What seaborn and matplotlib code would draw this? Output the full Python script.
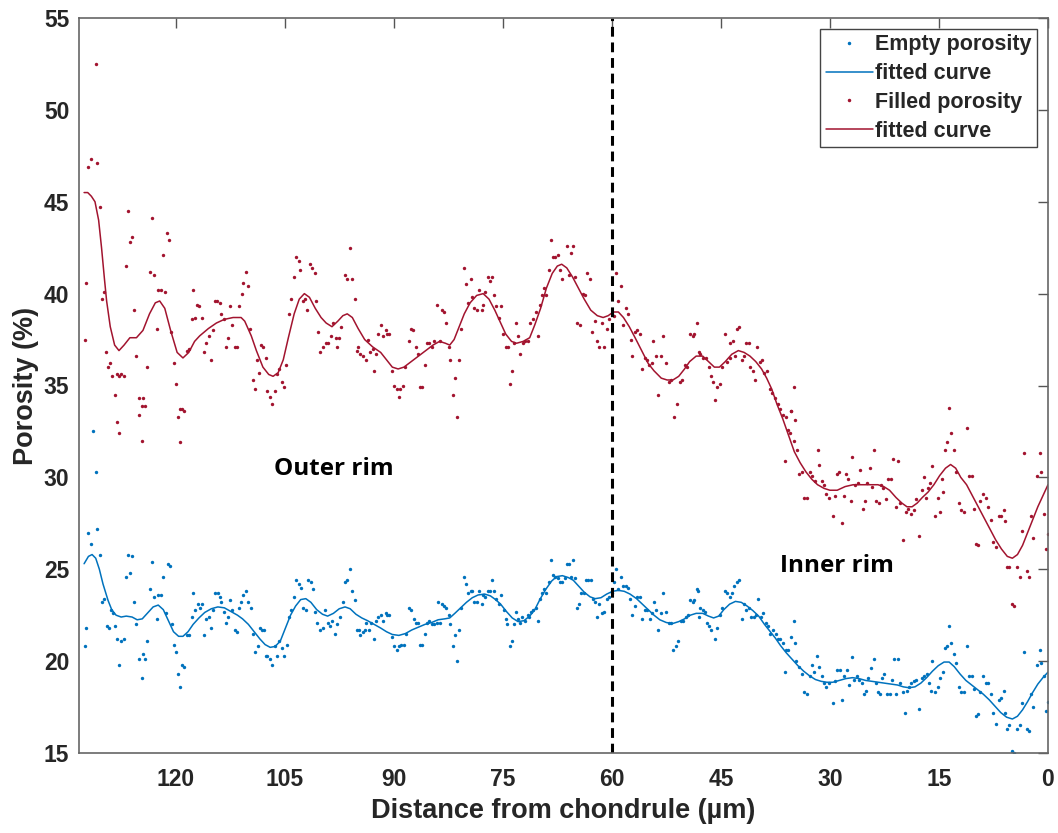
import matplotlib
matplotlib.use('Agg')
import matplotlib.pyplot as plt
from matplotlib.lines import Line2D
import pandas as pd
import seaborn as sns

# --- datos ---
# Porosidad rellena (puntos rojos)
red_x = [132.5, 132.3, 132.0, 131.7, 131.0, 130.8, 130.4, 130.2, 129.8, 129.6, 129.3, 129.1, 128.7, 128.4,
         128.1, 127.8, 127.5, 127.1, 126.9, 126.6, 126.3, 126.0, 125.7, 125.4, 125.0, 124.7, 124.5, 124.2,
         123.9, 123.6, 123.3, 123.0, 122.6, 122.4, 122.0, 121.8, 121.5, 121.2, 120.9, 120.6, 120.3, 120.0,
         119.7, 119.4, 119.1, 118.8, 118.5, 118.2, 117.8, 117.6, 117.3, 117.0, 116.8, 116.4, 116.1, 115.8,
         115.4, 115.2, 114.8, 114.6, 114.3, 113.9, 113.7, 113.4, 113.1, 112.8, 112.5, 112.2, 111.9, 111.5,
         111.3, 110.9, 110.7, 110.3, 110.0, 109.8, 109.4, 109.1, 108.8, 108.5, 108.2, 108.0, 107.6, 107.4,
         107.0, 106.8, 106.4, 106.1, 105.8, 105.4, 105.1, 104.8, 104.4, 104.1, 103.7, 103.5, 103.1, 102.9,
         102.5, 102.2, 101.9, 101.5, 101.3, 100.9, 100.7, 100.4, 100.1, 99.7, 99.3, 99.0, 98.6, 98.3, 97.9,
         97.8, 97.5, 97.2, 96.7, 96.4, 96.0, 95.7, 95.4, 95.1, 94.9,
         94.6, 94.3, 93.8, 93.5, 93.2, 92.9, 92.7, 92.4, 92.1, 91.8, 91.5, 91.1, 90.9, 90.6, 90.2, 89.9,
         89.5, 89.3, 89.1, 88.7, 88.4, 87.9, 87.6, 87.3, 87.0, 86.7, 86.4, 86.1, 85.7, 85.4, 85.1, 84.8,
         84.4, 84.0, 83.7, 83.3, 83.1, 82.8, 82.4, 82.2, 81.8, 81.6, 81.3, 81.0, 80.7, 80.4, 80.1, 79.8,
         79.4, 79.2, 78.9, 78.5, 78.3, 77.9, 77.7, 77.4, 77.0, 76.8, 76.5, 76.2, 75.9, 75.5, 75.2, 75.0,
         74.6, 74.3, 74.0, 73.8, 73.5, 73.2, 72.9, 72.6, 72.2, 71.9, 71.5, 71.2, 70.8, 70.5, 70.2, 69.9,
         69.6, 69.3, 69.0, 68.6, 68.4, 68.1, 67.8, 67.4, 67.2, 66.8, 66.2, 65.9, 65.6, 65.4, 65.1, 64.8,
         64.4, 64.0, 63.7, 63.4, 63.0, 62.7, 62.3, 62.1, 61.7, 61.4, 61.1, 60.7, 60.4, 60.0, 59.7, 59.4,
         59.1, 58.8, 58.4, 58.1, 57.8, 57.4, 57.2, 56.8, 56.5, 56.1, 55.8, 55.4, 55.1, 54.9, 54.5, 54.3,
         53.9, 53.6, 53.3, 52.9, 52.6, 52.2, 51.8, 51.4, 51.0, 50.6, 50.3, 49.9, 49.6, 49.3, 48.9, 48.3,
         48.0, 48.7, 47.9, 47.4, 47.1, 46.7, 46.4, 46.1, 45.8, 45.5, 45.1, 44.8, 44.4, 44.2, 43.8, 43.7,
         43.4, 43.1, 42.8, 42.5, 42.1, 41.8, 41.6, 41.2, 41.0, 40.6, 40.3, 40.0, 39.6, 39.3, 39.0, 38.6,
         38.3, 37.9, 37.6, 37.2, 36.9, 36.5, 36.0, 35.3, 34.9, 35.4, 34.8, 36.2, 35.7, 35.5, 35.0, 34.5,
         34.2, 33.8, 33.5, 33.2, 32.8, 32.5, 32.1, 31.7, 31.5, 31.1, 30.8, 30.5, 30.1, 29.6, 29.3, 29.0,
         28.7, 28.4, 28.1, 27.8, 27.5, 27.1, 26.9, 26.5, 26.2, 25.9, 25.5, 25.2, 24.9, 24.5, 24.2, 23.9,
         23.7, 23.3, 23.0, 22.7, 22.3, 22.0, 21.6, 21.3, 20.9, 20.6, 20.3, 19.9, 19.5, 19.2, 18.9, 18.5,
         18.2, 17.7, 17.4, 17.1, 16.8, 16.5, 16.2, 15.9, 15.5, 15.2, 14.9, 14.6, 14.4, 14.2, 13.9, 13.6,
         13.3, 12.9, 12.6, 12.2, 11.9, 11.6, 11.2, 10.8, 10.5, 10.2, 9.9, 9.6, 9.3, 8.9, 8.5, 8.2, 7.9,
         7.5, 7.2, 6.8, 6.5, 6.1, 5.9, 5.6, 5.3, 5.0, 4.7, 4.3, 3.9, 3.6, 3.3, 2.9, 2.6, 2.3, 2.0, 1.5,
         1.1, 0.9, 0.5, 0.3, 0.0, 128.1, 127.8, 125.0, 124.7, 119.4]
red_y = [37.5, 40.6, 46.9, 47.3, 52.5, 47.1, 44.7, 39.7, 40.1, 36.8, 36.0, 36.2, 35.5, 34.5,
         35.6, 35.5, 35.6, 35.5, 41.5, 44.5, 42.8, 43.1, 39.1, 36.6, 34.3, 33.9, 34.3, 33.9,
         36.0, 41.2, 44.1, 41.0, 38.1, 40.2, 40.2, 42.1, 40.1, 43.3, 42.9, 37.9, 36.2, 35.1,
         33.3, 33.7, 33.7, 33.6, 36.9, 37.0, 38.6, 40.2, 38.7, 39.4, 39.3, 38.7, 36.8, 37.3,
         37.7, 36.4, 38.0, 39.6, 39.6, 39.5, 38.9, 38.6, 37.1, 37.6, 39.3, 38.3, 37.1, 37.1,
         39.3, 40.0, 40.6, 41.2, 40.4, 38.1, 35.3, 34.8, 36.4, 35.7, 37.2, 37.1, 36.5, 34.7,
         34.4, 34.0, 34.7, 35.6, 35.9, 35.2, 34.9, 36.1, 38.9, 39.7, 40.9, 42.0, 41.8, 41.3,
         39.6, 39.7, 39.1, 41.6, 41.4, 41.1, 39.6, 37.9, 36.8, 37.1, 37.3, 37.3, 37.7, 38.4, 37.6,
         37.1, 37.6, 38.2, 41.0, 40.8, 42.5, 40.8, 39.7, 36.9, 37.1,
         36.7, 36.6, 36.4, 37.5, 36.8, 37.0, 35.8, 36.7, 37.8, 38.3, 37.7, 38.0, 37.8, 37.8, 35.8, 35.0,
         34.8, 34.4, 34.8, 35.0, 36.0, 37.4, 38.1, 38.0, 37.1, 36.7, 34.9, 34.9, 36.1, 37.3, 37.3, 37.1,
         37.4, 39.4, 37.4, 39.1, 39.0, 38.4, 37.1, 36.4, 34.5, 35.4, 33.3, 36.4, 38.1, 41.4, 40.5, 39.5,
         40.8, 39.8, 39.2, 39.1, 40.2, 39.1, 39.4, 40.1, 40.9, 40.7, 40.9, 39.9, 39.3, 38.7, 39.3, 37.8,
         37.1, 37.1, 35.1, 35.8, 37.3, 38.4, 37.7, 36.7, 37.3, 37.4, 37.4, 38.4, 38.6, 39.0, 37.7, 39.4,
         39.9, 40.3, 39.9, 41.3, 42.9, 42.0, 42.0, 42.1, 41.3, 40.8, 42.6, 41.0, 42.2, 42.6, 40.9, 38.4,
         38.3, 40.0, 39.9, 41.1, 40.8, 37.9, 38.5, 37.4, 37.1, 38.4, 37.1, 38.1, 38.6, 38.9, 38.8, 41.1,
         39.6, 40.4, 38.3, 39.2, 38.9, 37.5, 36.6, 37.9, 38.0, 37.8, 35.9, 36.5, 36.4, 36.1, 36.2, 37.4,
         36.6, 34.5, 36.6, 37.7, 36.2, 35.2, 35.3, 33.3, 34.0, 35.2, 35.3, 36.1, 36.0, 37.8, 37.7, 38.4,
         36.8, 37.8, 36.7, 36.5, 36.5, 36.0, 35.5, 35.2, 34.2, 34.9, 35.1, 36.0, 37.8, 36.3, 36.5, 37.3,
         37.4, 36.6, 38.1, 38.2, 36.4, 36.6, 37.3, 37.3, 36.0, 35.8, 35.3, 37.1, 36.3, 36.4, 35.7, 35.8,
         34.8, 34.6, 34.3, 34.0, 33.7, 33.4, 33.3, 33.6, 34.9, 33.6, 33.1, 30.9, 32.6, 32.4, 32.0, 31.5,
         30.2, 30.3, 28.9, 28.9, 30.3, 30.1, 29.8, 31.5, 30.7, 29.8, 29.6, 29.1, 28.9, 27.9, 29.0, 30.2,
         30.3, 27.5, 29.0, 30.2, 29.9, 28.7, 31.1, 29.6, 29.7, 30.4, 28.3, 28.7, 29.7, 30.5, 29.5, 31.5,
         28.7, 28.6, 29.6, 29.4, 28.8, 29.9, 29.9, 31.0, 28.4, 30.9, 28.6, 26.6, 28.1, 28.3, 28.0, 28.2,
         28.8, 26.8, 29.3, 30.0, 28.9, 29.4, 29.7, 30.6, 27.9, 28.9, 28.1, 29.9, 29.2, 31.5, 31.9, 33.8,
         32.4, 31.5, 30.3, 28.6, 28.2, 28.1, 32.7, 30.1, 30.1, 28.3, 26.4, 26.3, 28.7, 29.1, 28.9, 28.4, 27.7,
         26.5, 26.2, 27.9, 27.9, 28.2, 27.6, 25.1, 25.1, 23.1, 23.0, 25.1, 24.6, 27.1, 31.3, 24.9, 24.6, 27.9, 26.7, 30.1,
         31.3, 30.3, 28.0, 26.1, 26.9, 33.0, 32.4, 33.4, 32.0, 31.9]

# Porosidad vacía (puntos azules)
blue_x = [132.5, 132.3, 132.0, 131.7, 131.4, 131.0, 130.8, 130.4, 130.2, 129.8, 129.5, 129.2, 128.9, 128.6,
          128.3, 128.1, 127.8, 127.5, 127.1, 126.9, 126.6, 126.3, 126.0, 125.7, 125.4, 125.0, 124.7, 124.5,
          124.2, 123.9, 123.6, 123.3, 123.0, 122.6, 122.4, 122.0, 121.7, 121.4, 121.1, 120.8, 120.5, 120.3,
          120.0, 119.7, 119.4, 119.1, 118.8, 118.5, 118.2, 117.8, 117.6, 117.3, 116.9, 116.7, 116.4, 116.1,
          115.8, 115.4, 115.2, 114.8, 114.6, 114.2, 113.9, 113.7, 113.4, 113.1, 112.8, 112.5, 112.2, 111.9,
          111.5, 111.3, 111.0, 110.7, 110.3, 110.0, 109.7, 109.3, 109.1, 108.7, 108.4, 108.1, 107.9, 107.6,
          107.4, 107.0, 106.7, 106.4, 106.1, 105.8, 105.4, 105.1, 104.7, 104.4, 104.1, 103.7, 103.5, 103.1,
          102.8, 102.5, 102.1, 101.8, 101.4, 101.1, 100.8, 100.5, 100.2, 99.8, 99.5, 99.1, 98.8, 98.5, 98.1,
          97.8, 97.4, 97.0, 96.7, 96.4, 96.0, 95.7, 95.4, 95.1, 94.8,
          94.6, 94.3, 94.0, 93.8, 93.4, 93.1, 92.7, 92.4, 92.1, 91.8, 91.5, 91.1, 90.9, 90.6, 90.2, 89.9,
          89.6, 89.3, 89.0, 88.6, 88.3, 87.9, 87.6, 87.2, 87.0, 86.6, 86.4, 86.1, 85.7, 85.4, 85.1, 84.8,
          84.5, 84.1, 83.9, 83.7, 83.3, 83.1, 82.8, 82.4, 82.2, 81.8, 81.6, 81.3, 81.0, 80.7, 80.4, 80.1,
          79.8, 79.4, 79.2, 78.9, 78.5, 78.3, 77.9, 77.7, 77.4, 77.1, 76.8, 76.5, 76.2, 75.9, 75.5, 75.2,
          74.9, 74.6, 74.4, 74.0, 73.8, 73.5, 73.2, 72.9, 72.6, 72.3, 72.0, 71.6, 71.4, 71.1, 70.8, 70.5,
          70.1, 69.9, 69.6, 69.3, 69.0, 68.7, 68.4, 68.1, 67.8, 67.4, 67.2, 66.8, 66.5, 66.2, 65.9, 65.6,
          65.4, 65.1, 64.8, 64.5, 64.2, 63.8, 63.6, 63.3, 62.9, 62.6, 62.3, 62.1, 61.7, 61.4, 61.1, 60.7,
          60.4, 60.0, 59.7, 59.4, 59.1, 58.8, 58.4, 58.1, 57.8, 57.5, 57.2, 56.8, 56.5, 56.1, 55.8, 55.5,
          55.1, 54.8, 54.5, 54.2, 53.9, 53.6, 53.3, 52.9, 52.6, 52.2, 51.9, 51.6, 51.2, 50.9, 50.5, 50.2,
          49.8, 49.5, 49.2, 48.9, 48.3, 48.0,
          48.7, 48.2, 47.9, 47.5, 47.2, 46.9, 46.6, 46.3, 45.8, 45.5, 45.1, 44.8, 44.4, 44.1, 43.8, 43.5,
          43.2, 42.8, 42.5, 42.1, 41.8, 41.6, 41.2, 40.9, 40.5, 40.2, 39.9, 39.5, 39.2, 38.8, 38.5, 38.2,
          37.8, 37.4, 37.1, 36.8, 36.4, 36.0, 35.7, 35.4, 35.0, 34.8, 36.2, 34.6, 34.3, 33.9, 33.6, 33.2,
          32.8, 32.5, 32.2, 31.8, 31.5, 31.1, 30.8, 30.5, 30.1, 29.6, 29.3, 29.0, 28.6, 28.4, 28.1, 27.7,
          27.4, 27.0, 26.7, 26.3, 26.0, 25.6, 25.3, 25.0, 24.7, 24.4, 24.0, 23.7, 23.4, 23.1, 22.8, 22.5,
          22.2, 21.8, 21.5, 21.2, 20.9, 20.6, 20.3, 19.9, 19.7, 19.4, 19.1, 18.8, 18.4, 18.1, 17.7, 17.4,
          17.1, 16.7, 16.4, 16.1, 15.9, 15.5, 15.2, 14.9, 14.5, 14.2, 13.9, 13.6, 13.3, 12.9, 12.6, 12.2,
          11.9, 11.6, 11.2, 10.8, 10.5, 10.2, 9.9, 9.6, 9.3, 8.9, 8.5, 8.2, 7.9, 7.5, 7.2, 6.8, 6.5, 6.1,
          5.9, 5.6, 5.3, 5.0, 4.7, 4.3, 3.9, 3.6, 3.3, 2.9, 2.6, 2.3, 2.0, 1.5, 1.1, 0.9, 0.5, 0.3, 0.0]
blue_y = [20.8, 21.8, 27.0, 26.4, 32.5, 30.3, 27.2, 25.8, 23.2, 23.4, 21.9, 21.8, 22.8, 22.6,
          21.9, 21.2, 19.8, 21.1, 21.2, 24.6, 25.8, 24.8, 25.7, 23.2, 22.0, 20.1, 19.1, 20.4,
          20.1, 21.1, 23.9, 25.4, 23.5, 22.3, 23.6, 23.6, 24.6, 22.6, 25.3, 25.2, 22.0, 20.9,
          20.5, 19.3, 18.6, 19.8, 19.7, 21.4, 21.4, 22.4, 23.7, 22.8, 23.1, 22.9, 23.1, 21.4,
          22.3, 22.4, 21.8, 22.8, 23.7, 23.7, 23.5, 23.2, 22.7, 22.1, 22.4, 23.3, 22.8, 21.7,
          21.6, 22.9, 23.2, 23.6, 23.8, 23.2, 22.9, 21.5, 20.5, 20.8, 21.8, 21.7, 21.7, 20.3,
          20.3, 20.1, 19.8, 20.8, 20.3, 21.1, 20.7, 20.3, 20.9, 22.4, 22.8, 23.5, 24.4, 24.2,
          24.0, 22.9, 22.8, 24.4, 24.3, 23.9, 22.7, 22.1, 21.7, 21.8, 22.8, 22.1, 21.9, 22.2, 21.5,
          22.0, 22.4, 23.2, 24.3, 24.4, 25.0, 23.8, 23.3, 21.7, 21.7,
          21.4, 21.6, 21.7, 22.1, 21.7, 22.1, 21.2, 22.2, 22.4, 22.5, 22.2, 22.6, 22.5, 22.5, 21.3, 20.8,
          20.6, 20.8, 20.9, 20.9, 21.5, 22.9, 22.8, 22.3, 22.1, 22.1, 20.9, 20.9, 21.5, 22.1, 22.2, 22.0,
          22.0, 22.1, 23.2, 22.1, 23.1, 23.0, 22.9, 22.5, 22.0, 20.8, 21.4, 20.0, 21.7, 22.9, 24.6, 24.2,
          23.7, 23.8, 23.8, 23.2, 23.2, 23.8, 23.1, 23.6, 23.5, 23.8, 23.8, 24.4, 23.8, 23.4, 23.1, 23.6,
          22.8, 22.3, 22.0, 20.8, 21.1, 22.0, 22.7, 22.3, 22.1, 22.4, 22.2, 22.5, 22.4, 22.7, 22.8, 22.9,
          22.2, 23.4, 23.7, 23.9, 23.7, 24.3, 25.5, 24.7, 24.6, 24.5, 24.3, 24.3, 24.5, 25.3, 25.3, 24.6,
          25.5, 24.5, 22.9, 23.1, 23.7, 23.7, 24.4, 24.4, 24.4, 23.4, 23.2, 22.4, 23.1, 22.6, 22.7, 23.4,
          23.5, 23.7, 24.3, 25.0, 23.9, 24.6, 24.1, 24.1, 24.0, 23.4, 22.5, 23.0, 23.5, 23.5, 22.3, 22.8,
          22.8, 22.3, 22.6, 23.2, 22.8, 21.7, 22.6, 23.7, 22.7, 22.1, 22.1, 20.6, 20.8, 21.1, 22.2, 22.2,
          22.4, 22.5, 23.3, 23.2, 23.9, 22.4,
          23.3, 23.8, 22.9, 22.8, 22.7, 22.1, 21.9, 21.7, 21.2, 21.8, 22.5, 22.9, 23.8, 23.7, 23.5, 23.7,
          24.1, 24.3, 24.4, 22.3, 23.1, 22.8, 22.9, 22.4, 22.4, 22.5, 23.4, 22.4, 22.6, 22.1, 21.9, 21.5,
          21.7, 21.5, 21.2, 21.2, 21.0, 20.6, 20.6, 21.3, 22.2, 21.0, 19.4, 20.0, 19.7, 19.3, 18.3, 18.2,
          19.2, 19.8, 19.4, 20.3, 19.7, 19.2, 18.8, 18.6, 18.8, 17.7, 18.9, 19.5, 19.5, 17.9, 19.2, 19.5,
          18.7, 20.2, 19.0, 19.2, 19.0, 18.8, 18.2, 18.4, 19.1, 19.6, 20.1, 18.8, 18.3, 18.2, 19.1, 19.3,
          18.2, 18.2, 19.0, 20.1, 18.2, 20.1, 18.8, 18.3, 17.2, 18.4, 18.6, 18.8, 18.9, 19.0, 17.4, 19.1,
          19.2, 19.3, 18.8, 18.4, 20.0, 18.3, 18.6, 19.1, 19.4, 20.7, 20.8, 21.9, 21.0, 20.4, 19.9, 18.6,
          18.3, 18.3, 20.8, 19.2, 19.2, 18.5, 17.0, 17.1, 18.3, 19.2, 18.8, 18.8, 18.2, 17.2, 16.6, 17.9, 18.0, 18.4,
          17.2, 16.3, 16.5, 15.1, 15.0, 16.3, 16.5, 17.7, 20.5, 16.3, 16.2, 18.2, 17.5, 19.8, 20.6, 19.9, 19.2, 17.3, 17.8]

# Curvas ajustadas
red_fit_x = [132.6, 132.1, 131.6, 131.1, 130.6, 130.2, 129.8, 129.5, 129.0, 128.4, 127.8, 127.1, 126.3,
             125.4, 124.5, 123.6, 122.8, 122.2, 121.5, 120.7, 119.8, 119.0, 118.2, 117.4, 116.7, 115.5,
             114.4, 113.3, 112.1, 111.0, 110.5, 109.6, 108.9, 108.0, 107.2, 106.6, 105.9, 105.2, 104.5,
             103.7, 103.0, 102.3, 101.6, 100.8, 100.0, 99.3, 98.5, 97.7, 97.0, 96.4, 95.7, 94.9, 94.0,
             92.9, 91.8, 91.0, 90.2, 89.4, 88.6, 87.6, 86.6, 85.6, 84.6, 83.7, 82.9, 82.3, 81.7, 81.0,
             80.3, 79.5, 78.6, 77.7, 76.9, 76.1, 75.4, 74.6, 73.8, 73.1, 72.2, 71.3, 70.6, 69.8, 69.0,
             68.2, 67.5, 66.9, 66.2, 65.4, 64.6, 63.8, 62.9, 62.0, 61.2, 60.5, 59.8, 59.1, 58.4, 57.6,
             56.8, 55.9, 55.0, 54.2, 53.2, 52.4, 51.6, 50.8, 50.0, 49.3, 48.4, 47.5, 46.7, 45.9, 45.2,
             44.4, 43.5, 42.6, 41.8, 41.0, 40.2, 39.4, 38.7, 38.0, 37.3, 36.5, 35.7, 34.9, 34.1, 33.3,
             32.5, 31.7, 30.8, 30.0, 29.0, 27.9, 26.8, 25.7, 24.5, 23.4, 22.6, 21.8, 20.9, 20.1, 19.4,
             18.7, 18.0, 17.3, 16.5, 15.7, 14.9, 14.1, 13.4, 12.7, 12.0, 11.2, 10.4, 9.6, 8.8, 8.0, 7.2,
             6.4, 5.6, 4.9, 4.2, 3.5, 2.8, 2.1, 1.4, 0.7, 0.0]
red_fit_y = [45.5, 45.5, 45.3, 45.0, 44.0, 42.5, 40.8, 39.6, 38.2, 37.2, 36.9, 37.2, 37.6,
             37.6, 38.0, 38.9, 39.5, 39.6, 39.2, 38.0, 36.8, 36.5, 36.8, 37.4, 37.7, 38.1,
             38.4, 38.6, 38.7, 38.7, 38.5, 37.7, 36.9, 36.0, 35.6, 35.5, 35.7, 36.4, 37.6,
             38.9, 39.7, 40.0, 39.8, 39.2, 38.7, 38.4, 38.2, 38.5, 38.8, 38.9, 38.7, 38.1, 37.5,
             37.1, 36.8, 36.4, 36.0, 35.9, 36.0, 36.3, 36.6, 36.9, 37.2, 37.4, 37.3, 37.2, 37.5, 38.2,
             38.9, 39.5, 39.9, 40.0, 39.7, 39.1, 38.5, 37.8, 37.4, 37.3, 37.4, 37.6, 38.3, 39.2, 40.3,
             41.1, 41.5, 41.6, 41.4, 40.9, 40.3, 39.7, 39.1, 38.8, 38.7, 38.8, 39.0, 39.0, 38.7, 38.2,
             37.6, 36.9, 36.2, 35.8, 35.4, 35.3, 35.3, 35.5, 35.9, 36.3, 36.6, 36.6, 36.3, 36.0, 36.0,
             36.3, 36.7, 36.9, 36.8, 36.6, 36.3, 35.9, 35.4, 34.8, 34.0, 33.2, 32.3, 31.4, 30.8, 30.3,
             29.9, 29.6, 29.4, 29.3, 29.3, 29.5, 29.6, 29.6, 29.6, 29.6, 29.5, 29.3, 28.9, 28.6, 28.4,
             28.4, 28.6, 28.9, 29.2, 29.6, 30.1, 30.5, 30.7, 30.5, 30.0, 29.6, 29.0, 28.4, 27.8, 27.2, 26.6,
             26.1, 25.7, 25.6, 25.8, 26.3, 27.0, 27.7, 28.4, 29.0, 29.6]

blue_fit_x = [132.6, 132.0, 131.5, 131.0, 130.5, 130.0, 129.3, 128.8, 128.2, 127.5, 126.8, 126.0, 125.3,
              124.6, 123.9, 123.1, 122.4, 121.7, 121.0, 120.3, 119.6, 119.0, 118.3, 117.6, 116.8, 116.0,
              115.1, 114.2, 113.3, 112.4, 111.5, 110.8, 110.0, 109.2, 108.4, 107.7, 107.0, 106.3, 105.6,
              104.9, 104.2, 103.5, 102.8, 102.1, 101.4, 100.6, 99.8, 99.1, 98.3, 97.5, 96.7, 96.0, 95.2,
              94.4, 93.6, 92.7, 91.8, 91.0, 90.2, 89.3, 88.4, 87.5, 86.6, 85.7, 84.8, 83.9, 83.0, 82.3,
              81.6, 80.8, 80.0, 79.2, 78.4, 77.5, 76.7, 76.0, 75.3, 74.5, 73.7, 72.9, 72.1, 71.3, 70.6,
              69.9, 69.1, 68.3, 67.6, 66.8, 66.0, 65.3, 64.6, 63.8, 63.0, 62.3, 61.5, 60.7, 59.9, 59.1,
              58.3, 57.5, 56.6, 55.8, 55.0, 54.2, 53.4, 52.5, 51.6, 50.8, 50.0, 49.2, 48.4, 47.5, 46.7,
              46.0, 45.3, 44.6, 43.8, 43.0, 42.2, 41.4, 40.6, 39.8, 39.0, 38.3, 37.5, 36.8, 36.0, 35.2,
              34.4, 33.6, 32.8, 32.0, 31.2, 30.4, 29.6, 28.7, 27.8, 26.9, 26.0, 25.1, 24.2, 23.3, 22.4,
              21.6, 20.7, 19.9, 19.1, 18.3, 17.5, 16.7, 15.9, 15.1, 14.3, 13.6, 12.9, 12.1, 11.3, 10.5,
              9.7, 8.9, 8.1, 7.3, 6.5, 5.7, 4.9, 4.2, 3.5, 2.8, 2.1, 1.4, 0.7, 0.0]
blue_fit_y = [25.3, 25.7, 25.8, 25.6, 25.0, 24.2, 23.3, 22.8, 22.5, 22.4, 22.45, 22.4, 22.25,
              22.3, 22.6, 22.95, 23.05, 22.8, 22.2, 21.6, 21.35, 21.35, 21.6, 22.0, 22.35, 22.65,
              22.85, 22.95, 22.9, 22.7, 22.5, 22.3, 22.0, 21.6, 21.2, 20.9, 20.75, 20.8, 21.1,
              21.8, 22.5, 23.0, 23.35, 23.4, 23.2, 22.8, 22.55, 22.45, 22.6, 22.85, 22.95, 22.85, 22.55,
              22.35, 22.2, 22.0, 21.8, 21.6, 21.45, 21.4, 21.5, 21.7, 21.85, 22.0, 22.1, 22.25, 22.3, 22.35,
              22.6, 22.9, 23.2, 23.45, 23.6, 23.65, 23.55, 23.35, 23.1, 22.7, 22.35, 22.15, 22.2, 22.45, 22.8,
              23.35, 23.9, 24.35, 24.6, 24.65, 24.55, 24.4, 24.1, 23.75, 23.5, 23.4, 23.45, 23.65, 23.8, 23.85,
              23.8, 23.65, 23.4, 23.1, 22.8, 22.5, 22.25, 22.1, 22.05, 22.15, 22.3, 22.5, 22.6, 22.6, 22.45,
              22.35, 22.45, 22.8, 23.1, 23.25, 23.2, 23.0, 22.75, 22.45, 22.0, 21.65, 21.25, 20.85, 20.45, 20.1,
              19.75, 19.45, 19.2, 19.0, 18.9, 18.85, 18.85, 18.95, 19.05, 19.1, 19.05, 18.95, 18.9, 18.85, 18.8,
              18.75, 18.7, 18.6, 18.55, 18.6, 18.8, 19.1, 19.45, 19.75, 19.95, 19.95, 19.7, 19.3, 18.95, 18.7,
              18.45, 18.2, 17.9, 17.55, 17.2, 16.95, 16.85, 17.0, 17.35, 17.8, 18.3, 18.75, 19.1, 19.4]

x_ticks = [120, 105, 90, 75, 60, 45, 30, 15, 0]
y_ticks = [15, 20, 25, 30, 35, 40, 45, 50, 55]

BLUE = '#0072BD'
RED = '#A2142F'

sns.set_style('white')
plt.rcParams['font.family'] = ['Liberation Sans', 'DejaVu Sans']

fig = plt.figure(figsize=(10.58, 8.33), dpi=100)
ax = fig.add_axes([79 / 1058, 80 / 833, 969 / 1058, 735 / 833])

df_blue = pd.DataFrame({'x': blue_x, 'y': blue_y})
df_red = pd.DataFrame({'x': red_x, 'y': red_y})
fit_blue = pd.DataFrame({'x': blue_fit_x, 'y': blue_fit_y})
fit_red = pd.DataFrame({'x': red_fit_x, 'y': red_fit_y})

sns.scatterplot(data=df_blue, x='x', y='y', ax=ax, color=BLUE, s=6, linewidth=0)
sns.lineplot(data=fit_blue, x='x', y='y', ax=ax, color=BLUE, linewidth=1.1, sort=False)
sns.scatterplot(data=df_red, x='x', y='y', ax=ax, color=RED, s=6, linewidth=0)
sns.lineplot(data=fit_red, x='x', y='y', ax=ax, color=RED, linewidth=1.1, sort=False)

ax.axvline(60, color='black', linewidth=2.2, linestyle=(0, (3.2, 1.9)))

ax.set_xlim(133.3, 0)
ax.set_ylim(15, 55)
ax.set_xticks(x_ticks)
ax.set_yticks(y_ticks)
ax.tick_params(direction='in', top=True, right=True, length=7, width=1.0, color='#555555',
               labelsize=16.5, labelcolor='#262626')
ax.tick_params(axis='x', pad=11)
ax.tick_params(axis='y', pad=7)
for lab in ax.get_xticklabels() + ax.get_yticklabels():
    lab.set_fontweight('bold')
for sp in ax.spines.values():
    sp.set_color('#666666')
    sp.set_linewidth(1.2)

ax.set_xlabel('Distance from chondrule (µm)', fontsize=19.5, fontweight='bold', color='#262626', labelpad=5)
ax.set_ylabel('Porosity (%)', fontsize=19.5, fontweight='bold', color='#262626', labelpad=3)

ax.text(98.3, 30.45, 'Outer rim', fontsize=17.5, fontweight='bold', family=['Open Sans', 'DejaVu Sans'],
        ha='center', va='center', color='black')
ax.text(29.0, 25.2, 'Inner rim', fontsize=17.5, fontweight='bold', family=['Open Sans', 'DejaVu Sans'],
        ha='center', va='center', color='black')

handles = [
    Line2D([], [], linestyle='none', marker='.', markersize=3, color=BLUE),
    Line2D([], [], color=BLUE, linewidth=1.1),
    Line2D([], [], linestyle='none', marker='.', markersize=3, color=RED),
    Line2D([], [], color=RED, linewidth=1.1),
]
labels = ['Empty porosity', 'fitted curve', 'Filled porosity', 'fitted curve']
leg = ax.legend(handles, labels, loc='upper right', bbox_to_anchor=(0.9886, 0.985), borderaxespad=0,
                frameon=True, fancybox=False, edgecolor='#444444', framealpha=1,
                prop={'weight': 'bold', 'size': 15.5}, handlelength=2.2, handletextpad=0.1,
                labelspacing=0.36, borderpad=0.25)
leg.get_frame().set_linewidth(1.0)

fig.savefig('out.png', dpi=100)
